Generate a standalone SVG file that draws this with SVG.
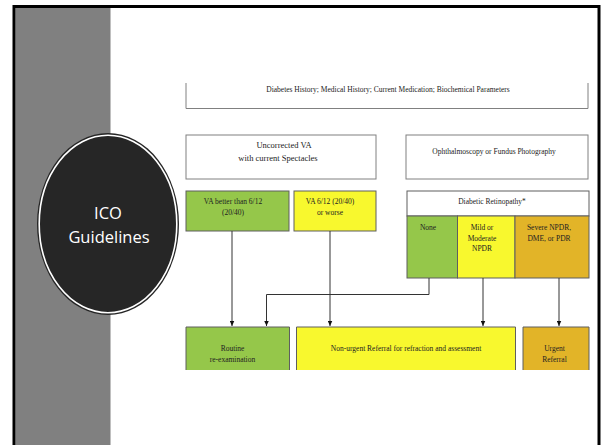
<svg xmlns="http://www.w3.org/2000/svg" width="602" height="445" viewBox="0 0 602 445">
<style>
.t{font-family:"Liberation Serif","Times New Roman",serif;font-size:7.5px;fill:#222;text-anchor:middle}
.tl{font-family:"Liberation Serif","Times New Roman",serif;font-size:8.5px;fill:#222;text-anchor:middle}
.wb{fill:#fff;stroke:#808080;stroke-width:1}
.g{fill:#95C74A;stroke:#5f5f5f;stroke-width:1}
.y{fill:#F8F82E;stroke:#5f5f5f;stroke-width:1}
.o{fill:#E2B428;stroke:#5f5f5f;stroke-width:1}
.open{fill:none;stroke:#5f5f5f;stroke-width:1}
.c{fill:none;stroke:#333;stroke-width:1;marker-end:url(#ah)}
</style>
<defs>
<marker id="ah" markerUnits="userSpaceOnUse" markerWidth="5" markerHeight="5" refX="5" refY="2.25" orient="auto" viewBox="0 0 5 4.5">
<path d="M0,0 L5,2.25 L0,4.5 Z" fill="#111"/>
</marker>
</defs>
<rect width="602" height="445" fill="#fff"/>
<rect x="15.5" y="8" width="95" height="437" fill="#808080"/>
<rect x="14" y="6.5" width="585" height="450" fill="none" stroke="#000" stroke-width="3"/>

<g id="circle">
<ellipse cx="108" cy="224" rx="71" ry="91" fill="#262626"/>
<ellipse cx="108" cy="224" rx="68.8" ry="88.8" fill="none" stroke="#fff" stroke-width="1.6"/>
<text x="108" y="219" font-family="'Open Sans','Noto Sans',sans-serif" font-size="16.5" fill="#fff" text-anchor="middle">ICO</text>
<text x="109" y="243" font-family="'Open Sans','Noto Sans',sans-serif" font-size="16.5" fill="#fff" text-anchor="middle">Guidelines</text>
</g>

<g id="history">
<rect x="186" y="83" width="402" height="25.5" fill="#fff"/>
<path class="open" d="M186,83 V108.5 H588 V83" style="stroke:#808080"/>
<text class="t" x="388" y="91.5">Diabetes History; Medical History; Current Medication; Biochemical Parameters</text>
</g>

<g id="va">
<rect class="wb" x="186" y="135" width="190" height="44"/>
<text class="tl" x="284" y="147.5">Uncorrected VA</text>
<text class="tl" x="278" y="160.5">with current Spectacles</text>
</g>

<g id="ophth">
<rect class="wb" x="406" y="135" width="182" height="44"/>
<text class="t" x="494" y="153.5">Ophthalmoscopy or Fundus Photography</text>
</g>

<g id="va-better">
<rect class="g" x="186" y="191" width="103" height="40"/>
<text class="t" x="233" y="204.3">VA better than 6/12</text>
<text class="t" x="233" y="215">(20/40)</text>
</g>

<g id="va-worse">
<rect class="y" x="294" y="191" width="82" height="40"/>
<text class="t" x="330" y="204.3">VA 6/12 (20/40)</text>
<text class="t" x="330" y="215">or worse</text>
</g>

<g id="dr">
<rect class="wb" x="407" y="191" width="182" height="25" style="stroke:#5f5f5f"/>
<text class="t" x="492" y="204.3">Diabetic Retinopathy*</text>
</g>
<g id="dr-none">
<rect class="g" x="407" y="216" width="50.5" height="62"/>
<text class="t" x="428" y="230">None</text>
</g>
<g id="dr-mild">
<rect class="y" x="457.5" y="216" width="57.5" height="62"/>
<text class="t" x="482" y="230">Mild or</text>
<text class="t" x="482" y="240.5">Moderate</text>
<text class="t" x="482" y="251">NPDR</text>
</g>
<g id="dr-severe">
<rect class="o" x="515" y="216" width="74" height="62"/>
<text class="t" x="549" y="230">Severe NPDR,</text>
<text class="t" x="549" y="240.5">DME, or PDR</text>
</g>

<g id="routine">
<rect x="186" y="327" width="103.5" height="43" fill="#95C74A"/>
<path class="open" d="M186,370 V327 H289.5 V370"/>
<text class="t" x="232.5" y="351">Routine</text>
<text class="t" x="232.5" y="361.7">re-examination</text>
</g>
<g id="nonurgent">
<rect x="296.5" y="327" width="219" height="43" fill="#F8F82E"/>
<path class="open" d="M296.5,370 V327 H515.5 V370"/>
<text class="t" x="406" y="351">Non-urgent Referral for refraction and assessment</text>
</g>
<g id="urgent">
<rect x="523" y="327" width="66" height="43" fill="#E2B428"/>
<path class="open" d="M523,370 V327 H589 V370"/>
<text class="t" x="554.5" y="351">Urgent</text>
<text class="t" x="554.5" y="361.7">Referral</text>
</g>

<g id="connectors">
<path class="c" d="M232,231 V326"/>
<path class="c" d="M330,231 V326"/>
<path class="c" d="M429,278 V294.5 H266.5 V326"/>
<path class="c" d="M483,278 V326"/>
<path class="c" d="M559,278 V326"/>
</g>
</svg>
